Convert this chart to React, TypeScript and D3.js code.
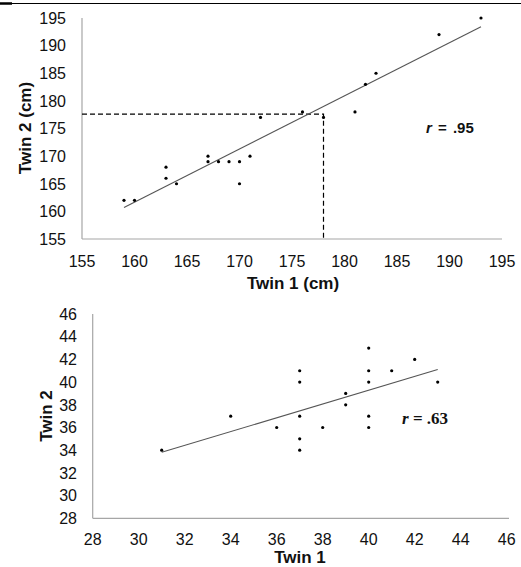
import React from "react";
import * as d3 from "d3";

// Height pairs (cm) for twin 1 and twin 2
const heightTwin1 = [159, 160, 163, 163, 164, 167, 167, 168, 169, 170, 170, 171, 172, 176, 178, 181, 182, 183, 189, 193];
const heightTwin2 = [162, 162, 168, 166, 165, 170, 169, 169, 169, 169, 165, 170, 177, 178, 177, 178, 183, 185, 192, 195];
const heightTicks = [155, 160, 165, 170, 175, 180, 185, 190, 195];
const heightGuide = [178, 177.6]; // twin 1 value and read-off twin 2 value
const heightR = ".95";

// Score pairs for twin 1 and twin 2
const scoreTwin1 = [34, 36, 37, 37, 37, 37, 37, 38, 39, 39, 40, 40, 40, 40, 40, 41, 42, 43, 31];
const scoreTwin2 = [37, 36, 41, 40, 37, 35, 34, 36, 39, 38, 43, 41, 40, 37, 36, 41, 42, 40, 34];
const scoreTicks = [28, 30, 32, 34, 36, 38, 40, 42, 44, 46];
const scoreR = ".63";

const FONT = "'Liberation Sans', Arial, sans-serif";
const SERIF = "'Liberation Serif', 'Times New Roman', 'DejaVu Serif', serif";
const AXIS = "#a6a6a6";

function fit(xs: number[], ys: number[]) {
  const mx = d3.mean(xs)!;
  const my = d3.mean(ys)!;
  const sxy = d3.sum(xs, (x, i) => (x - mx) * (ys[i] - my));
  const sxx = d3.sum(xs, (x) => (x - mx) ** 2);
  const b = sxy / sxx;
  const a = my - b * mx;
  const [x0, x1] = d3.extent(xs) as [number, number];
  return [
    [x0, a + b * x0],
    [x1, a + b * x1],
  ];
}

type PanelProps = {
  xs: number[];
  ys: number[];
  ticks: number[];
  xRange: [number, number];
  yRange: [number, number];
  xAxisEnd: number;
  yTickX: number;
  xTickY: number;
  xLabel: string;
  xLabelPos: [number, number];
  yLabel: string;
  yLabelPos: [number, number];
  children?: (x: d3.ScaleLinear<number, number>, y: d3.ScaleLinear<number, number>) => React.ReactNode;
};

function Panel(p: PanelProps) {
  const dom = [p.ticks[0], p.ticks[p.ticks.length - 1]];
  const x = d3.scaleLinear().domain(dom).range(p.xRange);
  const y = d3.scaleLinear().domain(dom).range(p.yRange);
  const line = d3.line<number[]>().x((d) => x(d[0])).y((d) => y(d[1]));
  const reg = fit(p.xs, p.ys);
  return (
    <g>
      <line x1={p.xRange[0]} x2={p.xRange[0]} y1={p.yRange[0]} y2={p.yRange[1]} stroke={AXIS} strokeWidth={1.2} />
      <line x1={p.xRange[0]} x2={p.xAxisEnd} y1={p.yRange[0]} y2={p.yRange[0]} stroke={AXIS} strokeWidth={1.2} />
      {p.ticks.map((t) => (
        <text key={"y" + t} x={p.yTickX} y={y(t)} dy="0.36em" textAnchor="end" fontSize={16} fontFamily={FONT} fill="#111">
          {t}
        </text>
      ))}
      {p.ticks.map((t) => (
        <text key={"x" + t} x={x(t)} y={p.xTickY} textAnchor="middle" fontSize={16} fontFamily={FONT} fill="#111">
          {t}
        </text>
      ))}
      <text x={p.xLabelPos[0]} y={p.xLabelPos[1]} textAnchor="middle" fontSize={17} fontWeight="bold" fontFamily={FONT} fill="#111">
        {p.xLabel}
      </text>
      <text
        transform={`translate(${p.yLabelPos[0]},${p.yLabelPos[1]}) rotate(-90)`}
        textAnchor="middle"
        dy="0.36em"
        fontSize={17}
        fontWeight="bold"
        fontFamily={FONT}
        fill="#111"
      >
        {p.yLabel}
      </text>
      {p.children && p.children(x, y)}
      <path d={line(reg) || ""} stroke="#555" strokeWidth={1.1} fill="none" />
      {p.xs.map((v, i) => (
        <circle key={i} cx={x(v)} cy={y(p.ys[i])} r={1.6} fill="#000" />
      ))}
    </g>
  );
}

export default function App() {
  return (
    <svg width={521} height={567} style={{ position: "absolute", left: 0, top: 0, background: "#fff" }}>
      <rect x={0} y={0} width={521} height={567} fill="#fff" />
      <line x1={0} x2={521} y1={3.5} y2={3.5} stroke="#000" strokeWidth={1} />
      <line x1={0} x2={12} y1={3.5} y2={3.5} stroke="#000" strokeWidth={2.5} />

      <Panel
        xs={heightTwin1}
        ys={heightTwin2}
        ticks={heightTicks}
        xRange={[82, 502]}
        yRange={[239, 18]}
        xAxisEnd={502}
        yTickX={66}
        xTickY={266.5}
        xLabel="Twin 1 (cm)"
        xLabelPos={[293, 288.5]}
        yLabel="Twin 2 (cm)"
        yLabelPos={[25, 128]}
      >
        {(x, y) => (
          <g>
            <path
              d={`M${x(heightTicks[0])},${y(heightGuide[1])}H${x(heightGuide[0])}V${y(heightTicks[0])}`}
              stroke="#000"
              strokeWidth={1.2}
              strokeDasharray="5,3"
              fill="none"
            />
            <text x={426} y={133} fontSize={15} fontWeight="bold" fontFamily={FONT} fill="#111" wordSpacing={2}>
              <tspan fontStyle="italic">r</tspan> = {heightR}
            </text>
          </g>
        )}
      </Panel>

      <Panel
        xs={scoreTwin1}
        ys={scoreTwin2}
        ticks={scoreTicks}
        xRange={[92.7, 506.7]}
        yRange={[518.3, 314]}
        xAxisEnd={509}
        yTickX={77}
        xTickY={545}
        xLabel="Twin 1"
        xLabelPos={[300, 562.5]}
        yLabel="Twin 2"
        yLabelPos={[45.5, 416]}
      >
        {() => (
          <text x={402} y={424} fontSize={17} fontWeight="bold" style={{ fontFamily: SERIF }} fill="#111">
            <tspan fontStyle="italic">r</tspan> = {scoreR}
          </text>
        )}
      </Panel>
    </svg>
  );
}
